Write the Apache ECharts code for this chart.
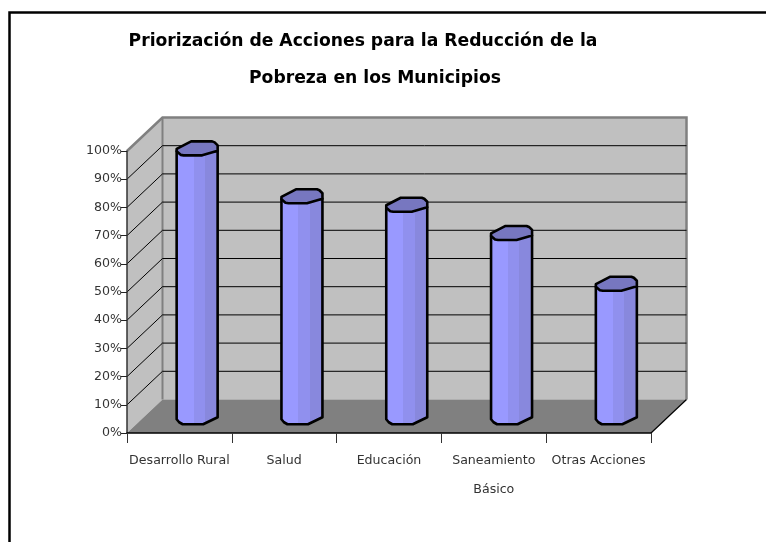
<!DOCTYPE html>
<html><head><meta charset="utf-8">
<style>html,body{margin:0;padding:0;background:#fff}#c{width:766px;height:542px}</style>
<script src="https://cdn.jsdelivr.net/npm/echarts@6/dist/echarts.min.js"></script>
</head><body><div id="c"></div>
<script>
const titleLines = ['Priorización de Acciones para la Reducción de la', 'Pobreza en los Municipios'];
const categories = ['Desarrollo Rural', 'Salud', 'Educación', 'Saneamiento\nBásico', 'Otras Acciones'];
const values = [95, 78, 75, 65, 47];
const gridTicks = [10, 20, 30, 40, 50, 60, 70, 80, 90];

const DEPTH_X = 35.5, DEPTH_Y = -33.5;
const R = 20.5;
const topShape = [[-R,0.5],[-R,3],[-16.5,6.5],[-13.5,7],[5,7],[R,2.5],[R,-3],[17.5,-6],[15,-7],[-6,-7]];
const baseShape = [[-R,3],[-18,6],[-14.5,8],[6,8],[R,1]];

const chart = echarts.init(document.getElementById('c'), null, {renderer:'canvas'});

function renderWalls(params, api) {
  const c = params.coordSys;
  const x0 = c.x, x1 = c.x + c.width, yB = c.y + c.height, yT = c.y;
  const bx0 = x0 + DEPTH_X, bx1 = x1 + DEPTH_X, byB = yB + DEPTH_Y, byT = yT + DEPTH_Y;
  const gray = '#808080';
  return {type:'group', children:[
    {type:'polygon', shape:{points:[[x0,yT],[bx0,byT],[bx0,byB],[x0,yB]]}, style:{fill:'#c0c0c0', stroke:null}},
    {type:'polygon', shape:{points:[[bx0,byT],[bx1,byT],[bx1,byB],[bx0,byB]]}, style:{fill:'#c0c0c0', stroke:null}},
    {type:'polygon', shape:{points:[[x0,yB],[x1,yB],[bx1,byB],[bx0,byB]]}, style:{fill:gray, stroke:null}},
    {type:'polyline', z2:5, shape:{points:[[x0,yT],[bx0,byT],[bx1,byT],[bx1,byB]]}, style:{fill:null, stroke:gray, lineWidth:2.5}},
    {type:'line', z2:5, shape:{x1:bx0,y1:byT,x2:bx0,y2:byB}, style:{stroke:gray, lineWidth:2}},
    {type:'line', z2:5, shape:{x1:x1,y1:yB,x2:bx1,y2:byB}, style:{stroke:'#000', lineWidth:1.2}}
  ]};
}
function renderGrid(params, api) {
  const p = api.coord([0, api.value(1)]);
  const c = params.coordSys;
  const y = p[1], bx0 = c.x + DEPTH_X, bx1 = c.x + c.width + DEPTH_X, by = y + DEPTH_Y;
  return {type:'polyline', shape:{points:[[c.x,y],[bx0,by],[bx1,by]]}, style:{fill:null, stroke:'#000', lineWidth:1}};
}
function renderBar(params, api) {
  const t = api.coord([api.value(0), api.value(1)]);
  const b = api.coord([api.value(0), 0]);
  const cx = t[0] + DEPTH_X / 2;
  const ty = t[1] + DEPTH_Y / 2, by = b[1] + DEPTH_Y / 2;
  const body = [[cx-R, ty+3], [cx+R, ty+2.5]];
  baseShape.slice().reverse().forEach(q => body.push([cx+q[0], by+q[1]]));
  const fill = new echarts.graphic.LinearGradient(0,0,1,0,[
    {offset:0,color:'#9999ff'},{offset:0.42,color:'#9999ff'},
    {offset:0.42,color:'#9090ee'},{offset:0.68,color:'#9090ee'},
    {offset:0.68,color:'#8888dd'},{offset:0.94,color:'#8888dd'},
    {offset:0.94,color:'#7f7fcc'},{offset:1,color:'#7f7fcc'}]);
  return {type:'group', children:[
    {type:'polygon', shape:{points:body}, style:{fill:fill, stroke:'#000', lineWidth:2.6, lineJoin:'round'}},
    {type:'polygon', shape:{points:topShape.map(q=>[cx+q[0], ty+q[1]])}, style:{fill:'#7777c0', stroke:'#000', lineWidth:2.6, lineJoin:'round'}}
  ]};
}

const titleStyle = {fontFamily:'DejaVu Sans', fontWeight:'bold', fontSize:17.2, color:'#000'};
chart.setOption({
  animation:false,
  backgroundColor:'#fff',
  title:[
    {text:titleLines[0], left:358, top:28, textAlign:'center', textStyle:titleStyle},
    {text:titleLines[1], left:370, top:65, textAlign:'center', textStyle:titleStyle}
  ],
  grid:{left:127, right:115, top:151, bottom:109, containLabel:false},
  xAxis:{type:'category', data:categories, z:6,
    axisLine:{lineStyle:{color:'#000', width:1.5}},
    axisTick:{show:true, length:10, alignWithLabel:false, lineStyle:{color:'#333', width:1}},
    axisLabel:{interval:0, margin:13, fontFamily:'DejaVu Sans', fontSize:12.6, lineHeight:29, color:'#333', verticalAlign:'top'}},
  yAxis:{type:'value', min:0, max:100, interval:10, z:6,
    axisLine:{show:true, lineStyle:{color:'#333', width:1.5}},
    axisTick:{show:true, length:6, lineStyle:{color:'#222', width:1}},
    axisLabel:{margin:5, formatter:'{value}%', fontFamily:'DejaVu Sans', fontSize:12.6, color:'#333'},
    splitLine:{show:false}},
  graphic:[{type:'polyline', silent:true, shape:{points:[[9.5,542],[9.5,12.5],[766,12.5]]},
    style:{fill:null, stroke:'#000', lineWidth:2.5}}],
  series:[
    {type:'custom', z:1, data:[[0,0]], renderItem:renderWalls, encode:{x:0,y:1}, silent:true},
    {type:'custom', z:2, data:gridTicks.map(v=>[0,v]), renderItem:renderGrid, encode:{x:0,y:1}, silent:true},
    {type:'custom', z:3, data:values.map((v,i)=>[i,v]), renderItem:renderBar, encode:{x:0,y:1}, silent:true}
  ]
});
</script></body></html>
